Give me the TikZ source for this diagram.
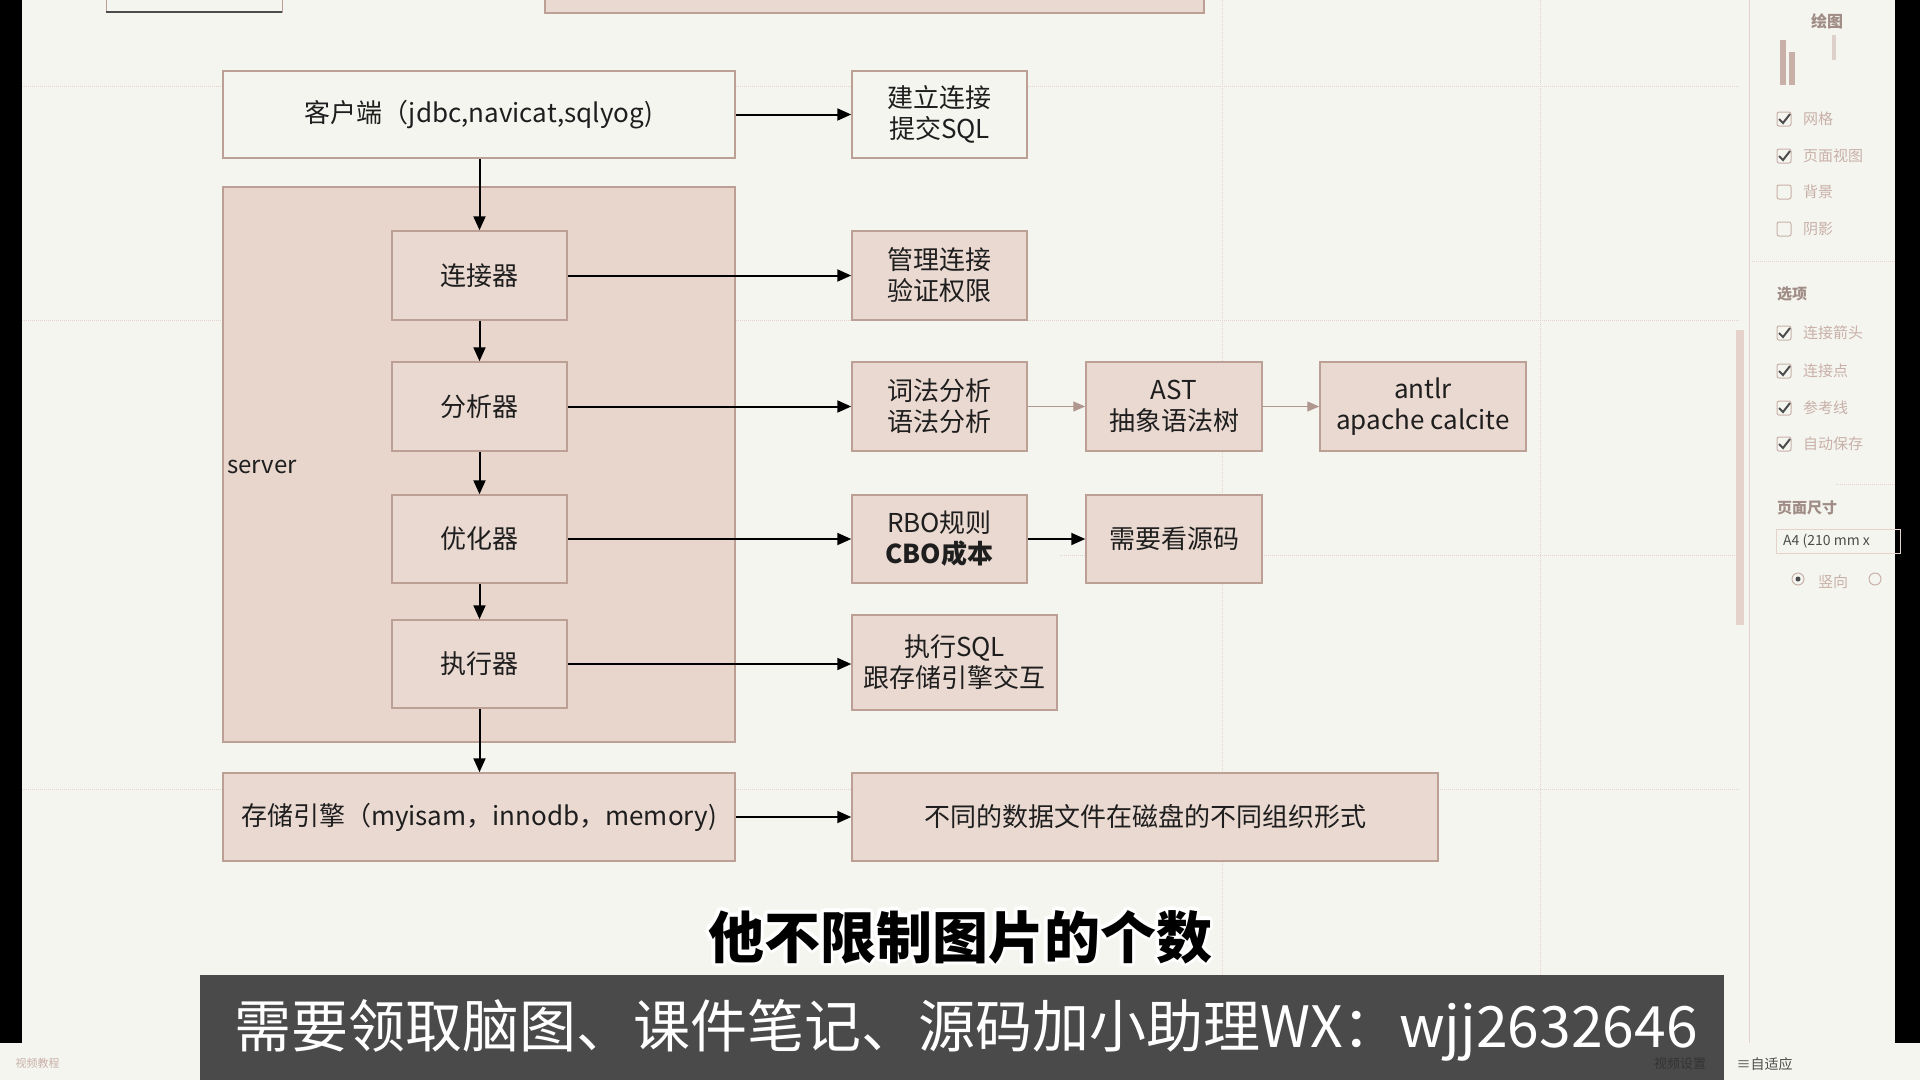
\documentclass[tikz,border=0pt]{standalone}
\usepackage{fontspec}
\setmainfont{Noto Sans CJK SC}
\usetikzlibrary{arrows.meta}
\definecolor{bg}{RGB}{245,245,240}
\definecolor{boxfill}{RGB}{234,217,209}
\definecolor{srvfill}{RGB}{232,214,205}
\definecolor{bordc}{RGB}{188,160,150}
\definecolor{txt}{RGB}{30,30,30}
\definecolor{faint}{RGB}{200,176,168}
\definecolor{gridc}{RGB}{228,210,203}
\definecolor{banner}{RGB}{75,74,75}
\definecolor{garrow}{RGB}{175,150,142}
\tikzset{
  box/.style={draw=bordc, line width=1.5pt, fill=boxfill, align=center, text=txt,
    inner sep=0pt, font=\fontsize{26}{31}\selectfont},
  lightbox/.style={box, fill=bg},
  arr/.style={-{Triangle[length=14pt,width=12pt]}, line width=2pt, draw=black},
  garr/.style={-{Triangle[length=12pt,width=10pt]}, line width=1.3pt, draw=garrow},
  gridline/.style={draw=gridc, line width=1pt, densely dotted},
  paneltext/.style={text=faint, font=\fontsize{15}{18}\selectfont, anchor=west, inner sep=0pt},
  chk/.style={draw=faint, line width=1pt, rounded corners=2pt},
  subfont/.style={font=\bfseries\fontsize{56}{62}\selectfont},
}
\begin{document}
\begin{tikzpicture}[x=1pt,y=-1pt]
\useasboundingbox (0,0) rectangle (1920,1080);
\fill[bg] (0,0) rectangle (1920,1080);
% grid / guide lines
\draw[gridline] (22,86) -- (1740,86);
\draw[gridline] (22,320) -- (1740,320);
\draw[gridline] (1060,555) -- (1740,555);
\draw[gridline] (22,789) -- (1740,789);
\draw[gridline] (1222,0) -- (1222,975);
\draw[gridline] (1540,0) -- (1540,975);
% partial boxes at top
\draw[draw=bordc, line width=1pt, fill=bg] (106,-5) rectangle (282,12);
\draw[draw=black!70, line width=2pt] (106,12) -- (282,12);
\draw[draw=bordc, line width=1.5pt, fill=boxfill] (545,-5) rectangle (1204,13);
% server container
\node[box, fill=srvfill, minimum width=512pt, minimum height=555pt] (server) at (479,464.5) {};
\node[anchor=west, inner sep=0pt, text=txt, font=\fontsize{24}{28}\selectfont] (srvlabel) at (227,467) {server};
% left column
\node[lightbox, minimum width=512pt, minimum height=87pt] (client) at (479,114.5) {客户端（jdbc,navicat,sqlyog)};
\node[box, minimum width=175pt, minimum height=89pt] (ljq) at (479.5,275.5) {连接器};
\node[box, minimum width=175pt, minimum height=89pt] (fxq) at (479.5,406.5) {分析器};
\node[box, minimum width=175pt, minimum height=88pt] (yhq) at (479.5,539) {优化器};
\node[box, minimum width=175pt, minimum height=88pt] (zxq) at (479.5,664) {执行器};
\node[box, minimum width=512pt, minimum height=88pt] (cunchu) at (479,817) {存储引擎（myisam，innodb，memory)};
% right column
\node[lightbox, minimum width=175pt, minimum height=87pt] (jianli) at (939.5,114.5) {建立连接\\提交SQL};
\node[box, minimum width=175pt, minimum height=89pt] (guanli) at (939.5,275.5) {管理连接\\验证权限};
\node[box, minimum width=175pt, minimum height=89pt] (cifa) at (939.5,406.5) {词法分析\\语法分析};
\node[box, minimum width=176pt, minimum height=89pt] (ast) at (1174,406.5) {AST\\抽象语法树};
\node[box, minimum width=206pt, minimum height=89pt] (antlr) at (1423,406.5) {antlr\\apache calcite};
\node[box, minimum width=175pt, minimum height=88pt] (rbo) at (939.5,539) {RBO规则\\\textbf{CBO成本}};
\node[box, minimum width=176pt, minimum height=88pt] (yuanma) at (1174,539) {需要看源码};
\node[box, minimum width=205pt, minimum height=95pt] (zxsql) at (954.5,662.5) {执行SQL\\跟存储引擎交互};
\node[box, minimum width=586pt, minimum height=88pt] (butong) at (1145,817) {不同的数据文件在磁盘的不同组织形式};
% connectors
\draw[arr] (client.east) -- (jianli.west);
\draw[arr] (ljq.north |- client.south) -- (ljq.north);
\draw[arr] (ljq.south) -- (fxq.north);
\draw[arr] (fxq.south) -- (yhq.north);
\draw[arr] (yhq.south) -- (zxq.north);
\draw[arr] (zxq.south) -- (zxq.south |- cunchu.north);
\draw[arr] (ljq.east) -- (ljq.east -| guanli.west);
\draw[arr] (fxq.east) -- (fxq.east -| cifa.west);
\draw[arr] (yhq.east) -- (yhq.east -| rbo.west);
\draw[arr] (zxq.east) -- (zxq.east -| zxsql.west);
\draw[arr] (cunchu.east) -- (cunchu.east -| butong.west);
\draw[arr] (rbo.east) -- (yuanma.west);
\draw[garr] (cifa.east) -- (ast.west);
\draw[garr] (ast.east) -- (antlr.west);
% side frame: black bars
\fill[black] (0,0) rectangle (22,1043);
\fill[black] (1895,0) rectangle (1920,1043);
% right panel
\draw[draw=gridc, line width=1pt] (1749,0) -- (1749,1043);
\fill[gridc] (1736,330) rectangle (1744,625);
\node[text=faint!80!black, font=\bfseries\fontsize{16}{19}\selectfont] (pdraw) at (1827,21) {绘图};
\fill[faint] (1780,40) rectangle (1786,85);
\fill[faint] (1789,52) rectangle (1795,85);
\fill[faint!60] (1832,35) rectangle (1836,60);
\foreach \yy/\lab/\ck [count=\i] in {119/网格/1,156/页面视图/1,192/背景/0,229/阴影/0,333/连接箭头/1,371/连接点/1,408/参考线/1,444/自动保存/1}{
  \draw[chk] (1777,\yy-7) rectangle (1791,\yy+7);
  \ifnum\ck=1 \draw[line width=2pt, draw=black!70] (1779,\yy) -- (1783,\yy+4) -- (1790,\yy-5); \fi
  \node[paneltext] (pl\i) at (1803,\yy) {\lab};
}
\draw[gridline] (1752,261) -- (1895,261);
\node[paneltext, text=faint!80!black, font=\bfseries\fontsize{15}{18}\selectfont] (popt) at (1777,294) {选项};
\draw[gridline] (1836,484) -- (1895,484);
\node[paneltext, text=faint!80!black, font=\bfseries\fontsize{15}{18}\selectfont] (psize) at (1777,508) {页面尺寸};
\draw[draw=gridc, line width=1pt] (1776,529) rectangle (1900,553);
\node[paneltext, text=black!70, font=\fontsize{14}{17}\selectfont] (pa4) at (1783,541) {A4 (210 mm x};
\draw[chk, rounded corners=0pt] (1798,579) circle (6);
\fill[black!70] (1798,579) circle (2.5);
\node[paneltext] (pvert) at (1818,582) {竖向};
\draw[chk, rounded corners=0pt] (1875,579) circle (6);
% subtitle with white outline
\def\subtxt{他不限制图片的个数}
\foreach \a in {0,45,...,315}{
  \path (960,937) ++(\a:3.5) node[text=white, subfont] (subo\a) {\subtxt};
}
\node[text=black, subfont] (sub) at (960,937) {\subtxt};
% bottom strip and banner
\fill[bg] (0,1043) rectangle (1920,1080);
\node[text=faint, font=\fontsize{11}{13}\selectfont, anchor=west] (bl) at (12,1063) {视频教程};
\fill[banner] (200,975) rectangle (1724,1080);
\node[text=white, font=\fontsize{57}{62}\selectfont] (bantext) at (966,1030) {需要领取脑图、课件笔记、源码加小助理WX：wjj2632646};
\node[text=black!80, font=\fontsize{13}{15}\selectfont] (vset) at (1680,1064) {视频设置};
\node[text=black!70, font=\fontsize{14}{16}\selectfont, anchor=west] (fit) at (1733,1064) {≡自适应};
\end{tikzpicture}
\end{document}
